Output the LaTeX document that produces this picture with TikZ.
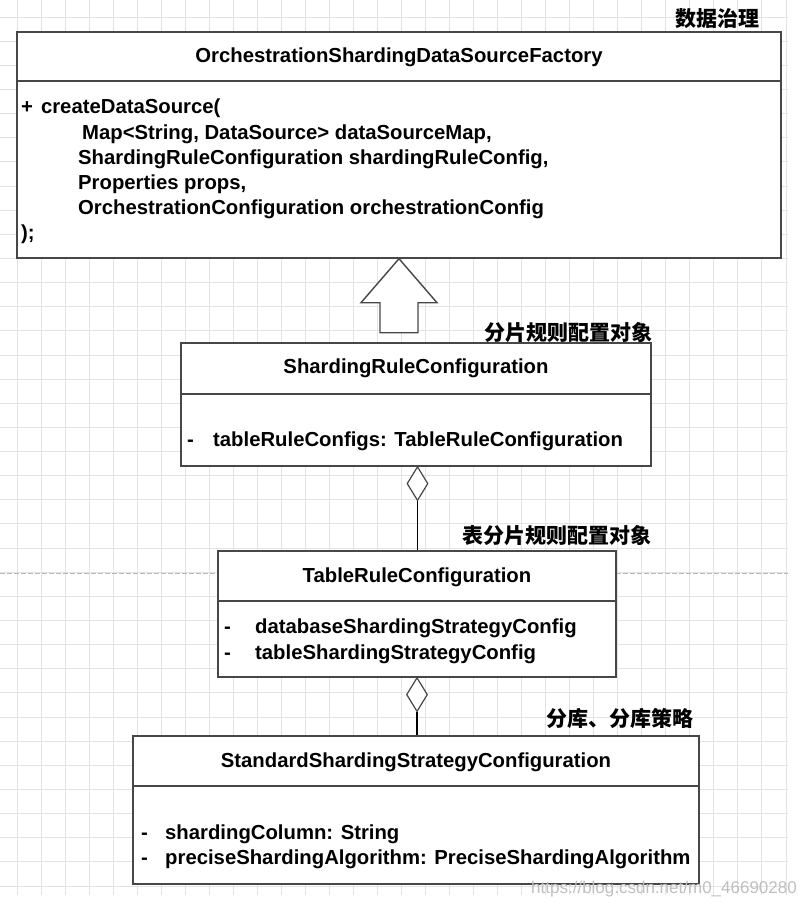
\documentclass[tikz,border=0pt]{standalone}
\usepackage{fontspec}
\setmainfont{Liberation Sans}
\newfontfamily\cjk{Noto Sans CJK SC}
\usetikzlibrary{shapes.geometric}
\begin{document}
\begin{tikzpicture}[x=1pt,y=-1pt,
  gridline/.style={draw=black!11, line width=0.9pt},
  pagebreak/.style={draw=black!28, line width=1pt, dash pattern=on 5pt off 2pt},
  umlbox/.style={draw=black!72, line width=1.4pt, fill=white, inner sep=0pt},
  sepline/.style={draw=black!72, line width=1.4pt},
  titletxt/.style={font=\fontsize{20.3}{24}\selectfont\bfseries, anchor=base, inner sep=0pt},
  attrtxt/.style={font=\fontsize{20.3}{24}\selectfont\bfseries, anchor=base west, inner sep=0pt},
  cjklabel/.style={font=\cjk\fontsize{21}{24}\selectfont\bfseries, anchor=base east, inner sep=0pt},
  diam/.style={diamond, draw=black!72, line width=1.2pt, fill=white, inner sep=0pt, minimum width=21pt, minimum height=34pt},
  link/.style={draw=black, line width=1.2pt},
  blockarrow/.style={draw=black!72, line width=1.4pt, fill=white, line join=miter},
  wmark/.style={font=\fontsize{17}{20}\selectfont, text=black!25, anchor=base east, inner sep=0pt}
]
\useasboundingbox (0,0) rectangle (807,905);
\fill[white] (0,0) rectangle (807,905);
% background grid
\foreach \k in {0,...,32} {
  \draw[gridline] ({17+24.03*\k},0) -- ({17+24.03*\k},895);
}
\foreach \k in {0,...,36} {
  \draw[gridline] (0,{17+24.14*\k}) -- (788,{17+24.14*\k});
}
\draw[pagebreak] (0,573) -- (788,573);

% Box 1
\node[umlbox, minimum width=764pt, minimum height=226pt] (b1) at (399,145) {};
\draw[sepline] (b1.west |- 0,81) -- (b1.east |- 0,81);
\node[titletxt] (b1t) at (399,62) {OrchestrationShardingDataSourceFactory};
\node[attrtxt] (b1a) at (21,113) {+\hspace{8pt}createDataSource(};
\node[attrtxt] (b1b) at (82,139) {Map<String, DataSource> dataSourceMap,};
\node[attrtxt] (b1c) at (78,164) {ShardingRuleConfiguration shardingRuleConfig,};
\node[attrtxt] (b1d) at (78,189) {Properties props,};
\node[attrtxt] (b1e) at (78,214) {OrchestrationConfiguration orchestrationConfig};
\node[attrtxt] (b1f) at (21,239) {);};
\node[cjklabel] (l1) at (760,26) {数据治理};

% Box 2
\node[umlbox, minimum width=470pt, minimum height=123pt] (b2) at (416,404.5) {};
\draw[sepline] (b2.west |- 0,394) -- (b2.east |- 0,394);
\node[titletxt] (b2t) at (416,373) {ShardingRuleConfiguration};
\node[attrtxt] (b2m) at (187,446) {-};
\node[attrtxt] (b2a) at (213,446) {tableRuleConfigs: TableRuleConfiguration};
\node[cjklabel] (l2) at (653,340) {分片规则配置对象};

% generalization block arrow (Box 2 -> Box 1)
\draw[blockarrow] (b1.south) -- ++(38,44) -- ++(-19,0) -- ++(0,30) -- ++(-38,0) -- ++(0,-30) -- ++(-19,0) -- cycle;

% Box 3
\node[umlbox, minimum width=398pt, minimum height=126pt] (b3) at (417,614) {};
\draw[sepline] (b3.west |- 0,601) -- (b3.east |- 0,601);
\node[titletxt] (b3t) at (417,582) {TableRuleConfiguration};
\node[attrtxt] (b3m1) at (224,633) {-};
\node[attrtxt] (b3a1) at (255,633) {databaseShardingStrategyConfig};
\node[attrtxt] (b3m2) at (224,659) {-};
\node[attrtxt] (b3a2) at (255,659) {tableShardingStrategyConfig};
\node[cjklabel] (l3) at (652,543) {表分片规则配置对象};

% aggregation Box 2 <>- Box 3
\node[diam, anchor=north] (d1) at (417.5,466) {};
\draw[link] (d1.south) -- (d1.south |- b3.north);

% Box 4
\node[umlbox, minimum width=566pt, minimum height=148pt] (b4) at (416,810) {};
\draw[sepline] (b4.west |- 0,786) -- (b4.east |- 0,786);
\node[titletxt] (b4t) at (416,767) {StandardShardingStrategyConfiguration};
\node[attrtxt] (b4m1) at (141,839) {-};
\node[attrtxt] (b4a1) at (165,839) {shardingColumn: String};
\node[attrtxt] (b4m2) at (141,864) {-};
\node[attrtxt] (b4a2) at (165,864) {preciseShardingAlgorithm: PreciseShardingAlgorithm};
\node[cjklabel] (l4) at (694,726) {分库、分库策略};

% aggregation Box 3 <>- Box 4
\node[diam, anchor=north] (d2) at (417,677) {};
\draw[link] (d2.south) -- (d2.south |- b4.north);

% watermark
\node[wmark] (wm) at (797,893) {https://blog.csdn.net/m0\_46690280};
\end{tikzpicture}
\end{document}
